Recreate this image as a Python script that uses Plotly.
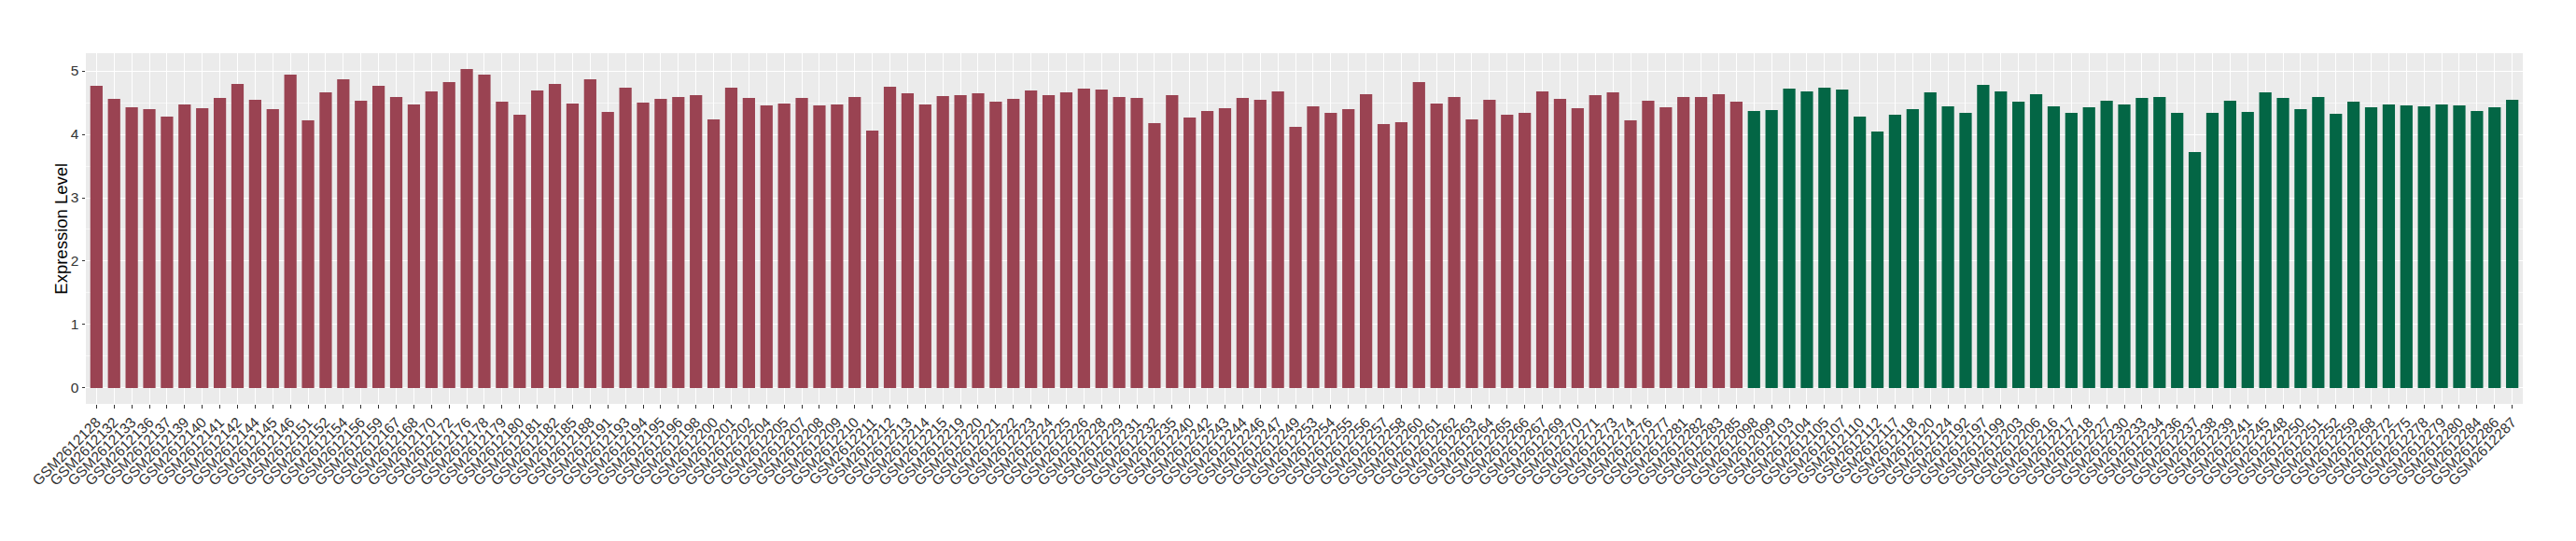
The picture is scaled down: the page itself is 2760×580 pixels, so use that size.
import plotly.graph_objects as go

group1_samples = ["GSM2612128","GSM2612132","GSM2612133","GSM2612136","GSM2612137","GSM2612139","GSM2612140","GSM2612141","GSM2612142","GSM2612144",
    "GSM2612145","GSM2612146","GSM2612151","GSM2612152","GSM2612154","GSM2612156","GSM2612159","GSM2612167","GSM2612168","GSM2612170",
    "GSM2612172","GSM2612176","GSM2612178","GSM2612179","GSM2612180","GSM2612181","GSM2612182","GSM2612185","GSM2612188","GSM2612191",
    "GSM2612193","GSM2612194","GSM2612195","GSM2612196","GSM2612198","GSM2612200","GSM2612201","GSM2612202","GSM2612204","GSM2612205",
    "GSM2612207","GSM2612208","GSM2612209","GSM2612210","GSM2612211","GSM2612212","GSM2612213","GSM2612214","GSM2612215","GSM2612219",
    "GSM2612220","GSM2612221","GSM2612222","GSM2612223","GSM2612224","GSM2612225","GSM2612226","GSM2612228","GSM2612229","GSM2612231",
    "GSM2612232","GSM2612235","GSM2612240","GSM2612242","GSM2612243","GSM2612244","GSM2612246","GSM2612247","GSM2612249","GSM2612253",
    "GSM2612254","GSM2612255","GSM2612256","GSM2612257","GSM2612258","GSM2612260","GSM2612261","GSM2612262","GSM2612263","GSM2612264",
    "GSM2612265","GSM2612266","GSM2612267","GSM2612269","GSM2612270","GSM2612271","GSM2612273","GSM2612274","GSM2612276","GSM2612277",
    "GSM2612281","GSM2612282","GSM2612283","GSM2612285"]
group1_values = [4.765,4.559,4.426,4.397,4.279,4.471,4.412,4.574,4.794,4.544,
    4.397,4.941,4.221,4.662,4.868,4.529,4.765,4.588,4.471,4.676,
    4.824,5.029,4.941,4.515,4.309,4.691,4.794,4.485,4.868,4.353,
    4.735,4.500,4.559,4.588,4.618,4.235,4.735,4.574,4.456,4.485,
    4.574,4.456,4.471,4.588,4.059,4.750,4.647,4.471,4.603,4.618,
    4.647,4.515,4.559,4.691,4.618,4.662,4.721,4.706,4.588,4.574,
    4.176,4.618,4.265,4.368,4.412,4.574,4.544,4.676,4.118,4.441,
    4.338,4.397,4.632,4.162,4.191,4.824,4.485,4.588,4.235,4.544,
    4.309,4.338,4.676,4.559,4.412,4.618,4.662,4.221,4.529,4.426,
    4.588,4.588,4.632,4.515]

group2_samples = ["GSM2612098","GSM2612099","GSM2612103","GSM2612104","GSM2612105","GSM2612107","GSM2612110","GSM2612112","GSM2612117","GSM2612118",
    "GSM2612120","GSM2612124","GSM2612192","GSM2612197","GSM2612199","GSM2612203","GSM2612206","GSM2612216","GSM2612217","GSM2612218",
    "GSM2612227","GSM2612230","GSM2612233","GSM2612234","GSM2612236","GSM2612237","GSM2612238","GSM2612239","GSM2612241","GSM2612245",
    "GSM2612248","GSM2612250","GSM2612251","GSM2612252","GSM2612259","GSM2612268","GSM2612272","GSM2612275","GSM2612278","GSM2612279",
    "GSM2612280","GSM2612284","GSM2612286","GSM2612287"]
group2_values = [4.368,4.382,4.721,4.676,4.735,4.706,4.279,4.044,4.309,4.397,
    4.662,4.441,4.338,4.779,4.676,4.515,4.632,4.441,4.338,4.426,
    4.529,4.471,4.574,4.588,4.338,3.721,4.338,4.529,4.353,4.662,
    4.574,4.397,4.588,4.324,4.515,4.426,4.471,4.456,4.441,4.471,
    4.456,4.368,4.426,4.544]

y_ticks = [0, 1, 2, 3, 4, 5]
y_title = "Expression Level"

color1 = "#9A4352"
color2 = "#036645"

categories = group1_samples + group2_samples
n = len(categories)
ymax = max(group1_values + group2_values)
pad = 0.05 * ymax

# page body has an 8px default margin; compensate so the panel lands where the reference has it
W, H = 2752, 572
ml, mr, mt, mb = 84.3, 57.3, 48.7, 147.3
plot_w = W - ml - mr

fig = go.Figure()
fig.add_trace(go.Bar(x=group1_samples, y=group1_values, marker=dict(color=color1, line=dict(width=0)),
                     width=0.7, showlegend=False))
fig.add_trace(go.Bar(x=group2_samples, y=group2_values, marker=dict(color=color2, line=dict(width=0)),
                     width=0.7, showlegend=False))

tickfont = dict(family="Liberation Sans, Arial, sans-serif", size=15.5, color="#333333")

fig.update_layout(
    width=W, height=H,
    margin=dict(l=ml, r=mr, t=mt, b=mb, pad=0),
    paper_bgcolor="white",
    plot_bgcolor="#EBEBEB",
    barmode="overlay",
    showlegend=False,
    xaxis=dict(
        type="category",
        categoryorder="array", categoryarray=categories,
        tickmode="array", tickvals=categories, ticktext=categories,
        range=[-0.6, n - 1 + 0.6],
        tickangle=-45,
        tickfont=tickfont,
        ticks="outside", ticklen=3.5, tickwidth=1, tickcolor="#333333",
        showgrid=True, gridcolor="white", gridwidth=1.1,
        zeroline=False, showline=False,
        automargin=False,
    ),
    yaxis=dict(
        range=[-pad, ymax + pad],
        tickvals=y_ticks,
        tickfont=tickfont,
        ticks="outside", ticklen=3.5, tickwidth=1, tickcolor="#333333",
        showgrid=True, gridcolor="white", gridwidth=1.1,
        minor=dict(dtick=0.5, showgrid=True, gridcolor="#F6F6F6", gridwidth=0.6, ticks=""),
        zeroline=False, showline=False,
        automargin=False,
    ),
    annotations=[dict(
        text=y_title, textangle=-90,
        xref="paper", yref="paper",
        x=(65 - 8 - ml) / plot_w, y=0.5,
        xanchor="center", yanchor="middle",
        showarrow=False,
        font=dict(family="Liberation Sans, Arial, sans-serif", size=18.5, color="black"),
    )],
)

fig.write_html("out.html")
